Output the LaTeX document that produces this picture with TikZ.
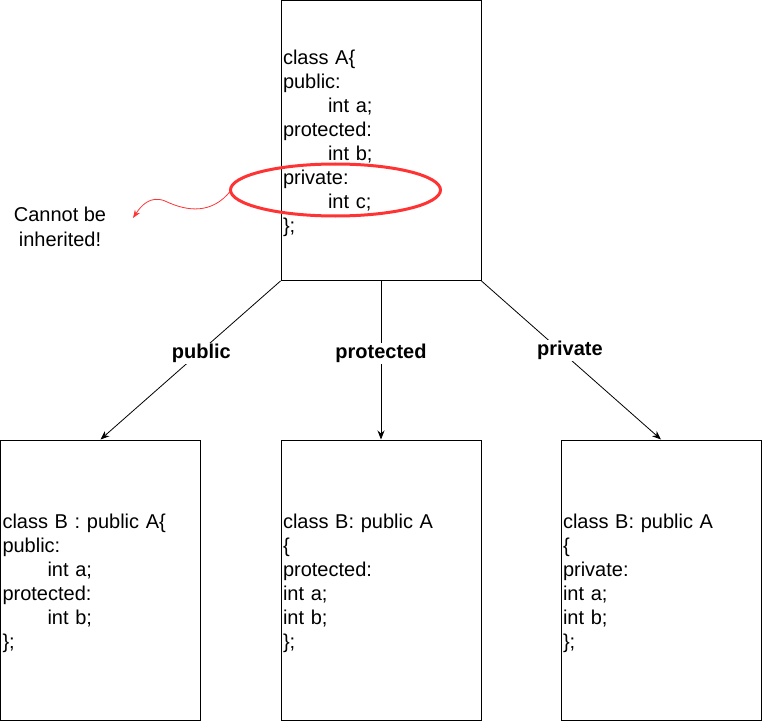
\documentclass[tikz,border=0pt]{standalone}
\usepackage{fontspec}
\setmainfont{Liberation Sans}
\usetikzlibrary{arrows.meta}
\definecolor{mcred}{HTML}{FF3333}
\newcommand{\ind}{\hspace*{45pt}}

\begin{document}
\begin{tikzpicture}[x=1pt, y=-1pt,
        classbox/.style={rectangle, draw, line width=1pt, minimum width=200pt, minimum height=280pt},
        classtext/.style={text width=196pt, inner sep=0pt, align=left, yshift=-3pt, font=\fontsize{20}{24}\selectfont},
        inherit/.style={-{Stealth[length=9pt,width=7pt]}, line width=0.8pt},
        access/.style={fill=white, font=\fontsize{20}{24}\selectfont\bfseries, inner sep=1pt, yshift=-3pt}]
            \useasboundingbox (0,0) rectangle (762,722);

            \node[classbox] (a) at (381,140.5) {};
            \node[classbox] (b1) at (100.5,580) {};
            \node[classbox] (b2) at (381,580) {};
            \node[classbox] (b3) at (661,580) {};

            \node[classtext] (a-text) at (a.center) {class A\{\\public:\\\ind int a;\\protected:\\\ind int b;\\private:\\\ind int c;\\\};};
            \node[classtext] (b1-text) at (b1.center) {class B : public A\{\\public:\\\ind int a;\\protected:\\\ind int b;\\\};};
            \node[classtext] (b2-text) at (b2.center) {class B: public A\\\{\\protected:\\int a;\\int b;\\\};};
            \node[classtext] (b3-text) at (b3.center) {class B: public A\\\{\\private:\\int a;\\int b;\\\};};

            \draw[inherit] (a.south west) -- node[access, pos=0.44] {public} (b1.north);
            \draw[inherit] (a.south) -- node[access, pos=0.44] {protected} (b2.north);
            \draw[inherit] (a.south east) -- node[access, pos=0.42, xshift=13pt] {private} (b3.north);

            % private members
            \draw[mcred, line width=3pt] (335.5,190) ellipse [x radius=105pt, y radius=26pt];
            \coordinate (ring) at (230.5,191);
            \node[align=center, font=\fontsize{20}{25}\selectfont] (note) at (60,227) {Cannot be\\inherited!};
            \draw[mcred, line width=0.8pt, -{Stealth[length=8pt,width=6pt]}] (ring) .. controls (212,214) and (188,212) .. (165,201) .. controls (150,195) and (141,206) .. (133,218);
        \end{tikzpicture}
\end{document}
